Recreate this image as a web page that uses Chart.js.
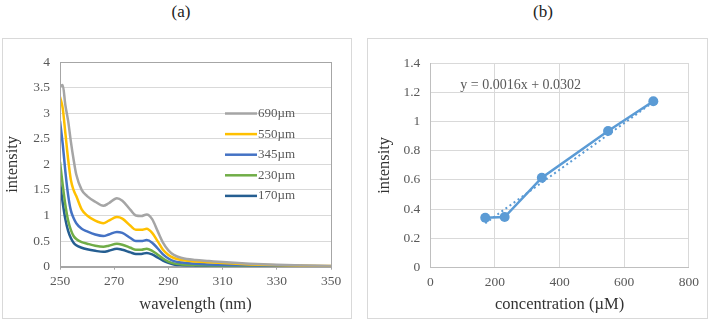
<!DOCTYPE html>
<html>
<head>
<meta charset="utf-8">
<script src="https://cdn.jsdelivr.net/npm/chart.js@4.4.1/dist/chart.umd.min.js"></script>
<style>
  html, body { margin:0; padding:0; background:#fff; }
  body { width:709px; height:321px; position:relative; overflow:hidden; font-family:"Liberation Serif", serif; }
  .box { position:absolute; border:1px solid #d9d9d9; box-sizing:border-box; }
  .lbl { position:absolute; font-size:17px; color:#222; transform:translate(-50%,-50%); white-space:nowrap; }
  canvas { position:absolute; }
</style>
</head>
<body>
<div class="lbl" style="left:181px; top:12px;">(a)</div>
<div class="lbl" style="left:543px; top:12px;">(b)</div>
<div class="box" style="left:2px; top:38px; width:350px; height:281px;"></div>
<div class="box" style="left:367px; top:38px; width:341px; height:281px;"></div>
<canvas id="c1" width="348" height="278" style="left:3px; top:39px;"></canvas>
<canvas id="c2" width="338" height="278" style="left:368px; top:39px;"></canvas>
<script>
// ---------- (a) spectra ----------
const wavelengths = [250,251,252,253,254,255,256,258,260,263,266,268,271,273,276,278,280,282,284,286,288,290,292,295,300,305,310,320,330,340,350];
const seriesLabels = ['690\u00b5m','550\u00b5m','345\u00b5m','230\u00b5m','170\u00b5m'];
const s690 = [3.52,3.55,3.15,2.85,2.45,2.1,1.8, 1.5,1.38,1.27,1.19,1.24, 1.34,1.29,1.11,1.0,0.99, 1.02,0.93,0.7,0.47,0.32, 0.23,0.17,0.13,0.11,0.09, 0.06,0.04,0.025,0.015];
const s550 = [3.32,3.1,2.6,2.1,1.7,1.5,1.38, 1.12,1.0,0.9,0.85,0.9, 0.97,0.94,0.8,0.72,0.72, 0.74,0.66,0.5,0.33,0.23, 0.17,0.13,0.1,0.085,0.07, 0.045,0.03,0.02,0.012];
const s345 = [2.85,2.4,1.85,1.4,1.1,0.95,0.85, 0.74,0.69,0.63,0.6,0.63, 0.68,0.66,0.56,0.5,0.5, 0.52,0.47,0.36,0.24,0.16, 0.11,0.08,0.06,0.045,0.035, 0.025,0.018,0.012,0.008];
const s230 = [2.05,1.6,1.2,0.9,0.72,0.6,0.54, 0.48,0.45,0.41,0.39,0.41, 0.45,0.43,0.37,0.33,0.33, 0.35,0.31,0.24,0.16,0.1, 0.065,0.045,0.032,0.025,0.02, 0.013,0.009,0.006,0.004];
const s170 = [1.65,1.25,0.92,0.7,0.56,0.47,0.42, 0.37,0.34,0.31,0.29,0.31, 0.35,0.33,0.28,0.25,0.25, 0.27,0.24,0.18,0.12,0.075, 0.045,0.03,0.02,0.015,0.012, 0.008,0.006,0.004,0.003];
const seriesColors = ['#A5A5A5','#FFC000','#4472C4','#70AD47','#255E91'];
const xTicksA = [250,270,290,310,330,350];
const yTicksA = [0,0.5,1,1.5,2,2.5,3,3.5,4];

// ---------- (b) calibration ----------
const concentrations = [170,230,345,550,690];
const intensities = [0.34,0.345,0.615,0.935,1.14];
const trendX = [170,690];
const trendY = [0.302,1.134];
const equationText = 'y = 0.0016x + 0.0302';
const xTicksB = [0,200,400,600,800];
const yTicksB = [0,0.2,0.4,0.6,0.8,1,1.2,1.4];

const FONT = 'Liberation Serif';
const tickColor = '#595959';
const TICK_SIZE = 13.5;
const fmt = v => String(+(+v).toFixed(2));

const toPts = (xs, ys) => xs.map((x,i)=>({x, y:ys[i]}));
const allSeries = [s690,s550,s345,s230,s170];

const borderPlugin = {
  id:'plotBorder',
  afterDatasetsDraw(chart){
    const {ctx, chartArea:a} = chart;
    ctx.save();
    ctx.strokeStyle = '#a6a6a6'; ctx.lineWidth = 1;
    ctx.strokeRect(Math.round(a.left)+0.5, Math.round(a.top)+0.5, Math.round(a.right-a.left), Math.round(a.bottom-a.top));
    ctx.restore();
  }
};
const legendPlugin = {
  id:'insideLegend',
  afterDraw(chart){
    const {ctx, chartArea:a} = chart;
    ctx.save();
    ctx.font = '13px "' + FONT + '"';
    ctx.textBaseline = 'middle';
    ctx.fillStyle = tickColor;
    chart.data.datasets.forEach((ds,i)=>{
      const y = a.top + 51.5 + i*20.6;
      const x0 = a.left + 165, x1 = a.left + 197;
      ctx.strokeStyle = ds.borderColor; ctx.lineWidth = 2.5;
      ctx.beginPath(); ctx.moveTo(x0,y); ctx.lineTo(x1,y); ctx.stroke();
      ctx.fillText(ds.label, x1 + 1, y);
    });
    ctx.restore();
  }
};

new Chart(document.getElementById('c1'), {
  type:'line',
  data:{
    datasets: seriesLabels.map((lab,i)=>({
      label:lab, data: toPts(wavelengths, allSeries[i]),
      borderColor: seriesColors[i], backgroundColor: seriesColors[i],
      borderWidth: 2.5, pointRadius: 0, cubicInterpolationMode:'monotone', fill:false
    }))
  },
  options:{
    responsive:false, animation:false, devicePixelRatio:1,
    layout:{ padding:{ left:0, right:20, top:23, bottom:0 } },
    plugins:{ legend:{display:false}, tooltip:{enabled:false} },
    scales:{
      x:{ type:'linear', min:250, max:350,
          afterBuildTicks(s){ s.ticks = xTicksA.map(v=>({value:v})); },
          afterFit(s){ s.height = 50.3; },
          ticks:{ color:tickColor, font:{family:FONT, size:TICK_SIZE}, padding:4, maxRotation:0, callback:fmt },
          grid:{ drawOnChartArea:false, drawTicks:true, tickLength:3, color:'#a6a6a6' },
          border:{ color:'#a6a6a6' },
          title:{ display:true, text:'wavelength (nm)', color:'#333', font:{family:FONT, size:16.5}, padding:{top:0, bottom:2} } },
      y:{ type:'linear', min:0, max:4,
          afterBuildTicks(s){ s.ticks = yTicksA.map(v=>({value:v})); },
          afterFit(s){ s.width = 57; },
          ticks:{ color:tickColor, font:{family:FONT, size:TICK_SIZE}, padding:10, callback:fmt },
          grid:{ color:'#d9d9d9', drawTicks:false },
          border:{ color:'#a6a6a6' },
          title:{ display:true, text:'intensity', color:'#333', font:{family:FONT, size:16.5}, padding:{top:0, bottom:0} } }
    }
  },
  plugins:[borderPlugin, legendPlugin]
});

const eqPlugin = {
  id:'equation',
  afterDraw(chart){
    const {ctx, chartArea:a} = chart;
    ctx.save();
    ctx.font = '14px "' + FONT + '"';
    ctx.fillStyle = tickColor; ctx.textBaseline = 'middle';
    ctx.fillText(equationText, a.left + 30, a.top + 22);
    ctx.restore();
  }
};

new Chart(document.getElementById('c2'), {
  type:'line',
  data:{
    datasets:[
      { label:'intensity', data: toPts(concentrations, intensities),
        borderColor:'#5B9BD5', backgroundColor:'#5B9BD5', borderWidth:2.5,
        pointRadius:5, pointHoverRadius:5, pointBorderWidth:0, tension:0 },
      { label:'Linear', data: toPts(trendX, trendY),
        borderColor:'#5B9BD5', borderWidth:2, borderDash:[2,3], pointRadius:0, tension:0 }
    ]
  },
  options:{
    responsive:false, animation:false, devicePixelRatio:1,
    layout:{ padding:{ left:0, right:16, top:24.3, bottom:0 } },
    plugins:{ legend:{display:false}, tooltip:{enabled:false} },
    scales:{
      x:{ type:'linear', min:0, max:800,
          afterBuildTicks(s){ s.ticks = xTicksB.map(v=>({value:v})); },
          afterFit(s){ s.height = 49.7; },
          ticks:{ color:tickColor, font:{family:FONT, size:TICK_SIZE}, padding:7, maxRotation:0, callback:fmt },
          grid:{ color:'#d9d9d9', drawTicks:false },
          border:{ color:'#bfbfbf' },
          title:{ display:true, text:'concentration (\u00b5M)', color:'#333', font:{family:FONT, size:16.5}, padding:{top:0, bottom:2} } },
      y:{ type:'linear', min:0, max:1.4,
          afterBuildTicks(s){ s.ticks = yTicksB.map(v=>({value:v})); },
          afterFit(s){ s.width = 62.3; },
          ticks:{ color:tickColor, font:{family:FONT, size:TICK_SIZE}, padding:10, callback:fmt },
          grid:{ color:'#d9d9d9', drawTicks:false },
          border:{ color:'#bfbfbf' },
          title:{ display:true, text:'intensity', color:'#333', font:{family:FONT, size:16.5}, padding:{top:7, bottom:0} } }
    }
  },
  plugins:[eqPlugin]
});
</script>
</body>
</html>
